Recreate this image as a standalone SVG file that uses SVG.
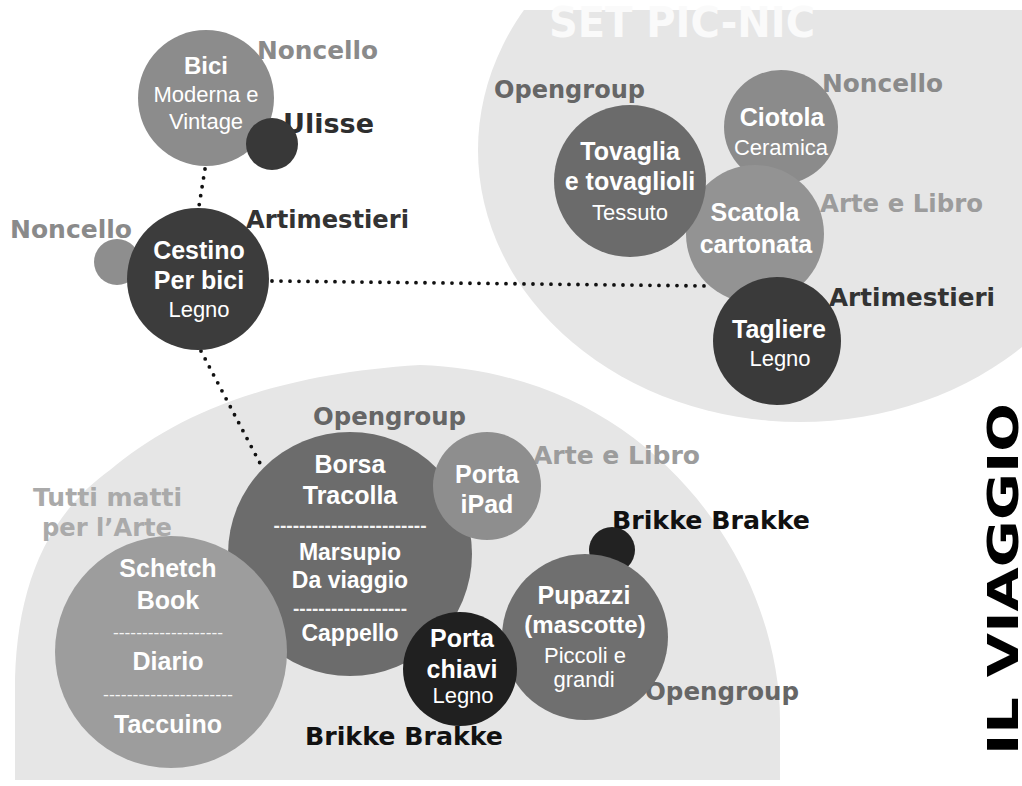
<svg xmlns="http://www.w3.org/2000/svg" width="1022" height="786" viewBox="0 0 1022 786">
<defs>
<style>
.lbl{font-family:"DejaVu Sans","Liberation Sans",sans-serif;font-weight:bold;font-size:24px}
.t{font-family:"Liberation Sans",Arial,sans-serif;font-weight:bold;font-size:25px;fill:#fff;text-anchor:middle}
.s{font-family:"Liberation Sans",Arial,sans-serif;font-size:22px;fill:#fff;text-anchor:middle}
.d{font-family:"Liberation Sans",Arial,sans-serif;font-weight:bold;font-size:18px;fill:#f4f4f4;text-anchor:middle}
.dl{font-family:"Liberation Sans",Arial,sans-serif;font-size:16px;fill:#f4f4f4;text-anchor:middle}
.dot{fill:none;stroke:#111;stroke-width:3.8;stroke-linecap:round;stroke-dasharray:0 9}
.grey{fill:#8a8a8a}.mid{fill:#6a6a6a}.dark{fill:#3a3a3a}.black{fill:#111}.light{fill:#9c9c9c}.pale{fill:#aaaaaa}
</style>
<clipPath id="topclip"><rect x="0" y="10" width="1022" height="776"/></clipPath>
<clipPath id="botclip"><rect x="0" y="0" width="1022" height="780"/></clipPath>
</defs>
<rect width="1022" height="786" fill="#ffffff"/>
<g id="backgrounds">
<ellipse cx="800" cy="150" rx="322" ry="272" fill="#e6e6e6" clip-path="url(#topclip)"/>
<path d="M15,786 L15,690 C15,600 40,520 110,470 C170,420 260,375 420,365 C560,370 660,440 720,530 C760,590 780,660 780,720 L780,786 Z" fill="#e6e6e6" clip-path="url(#botclip)"/>
</g>
<g id="titles">
<text x="549" y="37" class="lbl" style="font-size:42px" fill="#fafafa" textLength="266" lengthAdjust="spacingAndGlyphs">SET PIC-NIC</text>
<text transform="translate(1018,755) rotate(-90)" class="lbl" style="font-size:42px" fill="#000" textLength="352" lengthAdjust="spacingAndGlyphs">IL VIAGGIO</text>
</g>
<g id="connectors">
<line class="dot" x1="205" y1="169" x2="199" y2="206"/>
<line class="dot" x1="272" y1="281" x2="710" y2="286"/>
<line class="dot" x1="201" y1="351" x2="262" y2="467"/>
</g>
<g id="labels">
<text class="lbl grey" x="257" y="59" textLength="121" lengthAdjust="spacingAndGlyphs">Noncello</text>
<text class="lbl" fill="#2e2e2e" x="283" y="133" style="font-size:27px" textLength="91" lengthAdjust="spacingAndGlyphs">Ulisse</text>
<text class="lbl" fill="#333" x="246" y="228" textLength="163" lengthAdjust="spacingAndGlyphs">Artimestieri</text>
<text class="lbl grey" x="10" y="238" textLength="122" lengthAdjust="spacingAndGlyphs">Noncello</text>
<text class="lbl" fill="#666" x="494" y="98" textLength="151" lengthAdjust="spacingAndGlyphs">Opengroup</text>
<text class="lbl grey" x="822" y="92" textLength="121" lengthAdjust="spacingAndGlyphs">Noncello</text>
<text class="lbl light" x="820" y="212" textLength="163" lengthAdjust="spacingAndGlyphs">Arte e Libro</text>
<text class="lbl" fill="#333" x="829" y="306" textLength="166" lengthAdjust="spacingAndGlyphs">Artimestieri</text>
<text class="lbl" fill="#666" x="313" y="425" textLength="153" lengthAdjust="spacingAndGlyphs">Opengroup</text>
<text class="lbl light" x="533" y="464" textLength="167" lengthAdjust="spacingAndGlyphs">Arte e Libro</text>
<text class="lbl black" x="612" y="529" textLength="198" lengthAdjust="spacingAndGlyphs">Brikke Brakke</text>
<text class="lbl" fill="#666" x="645" y="700" textLength="154" lengthAdjust="spacingAndGlyphs">Opengroup</text>
<text class="lbl black" x="305" y="745" textLength="198" lengthAdjust="spacingAndGlyphs">Brikke Brakke</text>
<text class="lbl pale" x="33" y="506" textLength="149" lengthAdjust="spacingAndGlyphs">Tutti matti</text>
<text class="lbl pale" x="42" y="536" textLength="130" lengthAdjust="spacingAndGlyphs">per l’Arte</text>
</g>
<g id="bici">
<circle cx="206" cy="98" r="68" fill="#8c8c8c"/>
<text class="t" x="206" y="74" style="font-size:24px">Bici</text>
<text class="s" x="206" y="102">Moderna e</text>
<text class="s" x="206" y="129">Vintage</text>
</g>
<g id="ulisse"><circle cx="272" cy="144" r="26" fill="#383838"/></g>
<g id="noncello-dot"><circle cx="117" cy="262" r="23" fill="#8e8e8e"/></g>
<g id="cestino">
<circle cx="198" cy="279" r="71" fill="#3c3c3c"/>
<text class="t" x="199" y="259">Cestino</text>
<text class="t" x="199" y="289">Per bici</text>
<text class="s" x="199" y="317">Legno</text>
</g>
<g id="ciotola">
<circle cx="781" cy="127" r="57" fill="#8b8b8b"/>
<text class="t" x="782" y="126">Ciotola</text>
<text class="s" x="781" y="155">Ceramica</text>
</g>
<g id="scatola">
<circle cx="755" cy="234" r="69" fill="#939393"/>
<text class="t" x="755" y="221">Scatola</text>
<text class="t" x="756" y="253">cartonata</text>
</g>
<g id="tovaglia">
<circle cx="630" cy="181" r="76" fill="#6b6b6b"/>
<text class="t" x="630" y="160">Tovaglia</text>
<text class="t" x="630" y="190">e tovaglioli</text>
<text class="s" x="630" y="220">Tessuto</text>
</g>
<g id="tagliere">
<circle cx="777" cy="341" r="64" fill="#3a3a3a"/>
<text class="t" x="779" y="338">Tagliere</text>
<text class="s" x="780" y="366">Legno</text>
</g>
<g id="borsa">
<circle cx="350" cy="554" r="122" fill="#6c6c6c"/>
<text class="t" x="350" y="473">Borsa</text>
<text class="t" x="350" y="504">Tracolla</text>
<text class="d" x="350" y="532" textLength="153" lengthAdjust="spacingAndGlyphs">------------------------</text>
<text class="t" x="350" y="560" style="font-size:23px">Marsupio</text>
<text class="t" x="350" y="588" style="font-size:23px">Da viaggio</text>
<text class="d" x="350" y="615" textLength="114" lengthAdjust="spacingAndGlyphs">------------------</text>
<text class="t" x="350" y="641" style="font-size:23px">Cappello</text>
</g>
<g id="schetch">
<circle cx="171" cy="652" r="116" fill="#9d9d9d"/>
<text class="t" x="168" y="577">Schetch</text>
<text class="t" x="168" y="609">Book</text>
<text class="dl" x="168" y="638" textLength="110" lengthAdjust="spacingAndGlyphs">-------------------</text>
<text class="t" x="168" y="670">Diario</text>
<text class="dl" x="168" y="700" textLength="130" lengthAdjust="spacingAndGlyphs">----------------------</text>
<text class="t" x="168" y="733">Taccuino</text>
</g>
<g id="porta-ipad">
<circle cx="487" cy="486" r="54" fill="#8e8e8e"/>
<text class="t" x="487" y="483">Porta</text>
<text class="t" x="487" y="513">iPad</text>
</g>
<g id="brikke-dot"><circle cx="612" cy="550" r="23" fill="#222"/></g>
<g id="pupazzi">
<circle cx="585" cy="637" r="83" fill="#6f6f6f"/>
<text class="t" x="584" y="604">Pupazzi</text>
<text class="t" x="585" y="633" style="font-size:24px">(mascotte)</text>
<text class="s" x="585" y="663">Piccoli e</text>
<text class="s" x="584" y="687">grandi</text>
</g>
<g id="porta-chiavi">
<circle cx="460" cy="669" r="57" fill="#202020"/>
<text class="t" x="462" y="647">Porta</text>
<text class="t" x="462" y="678">chiavi</text>
<text class="s" x="463" y="703">Legno</text>
</g>
</svg>
